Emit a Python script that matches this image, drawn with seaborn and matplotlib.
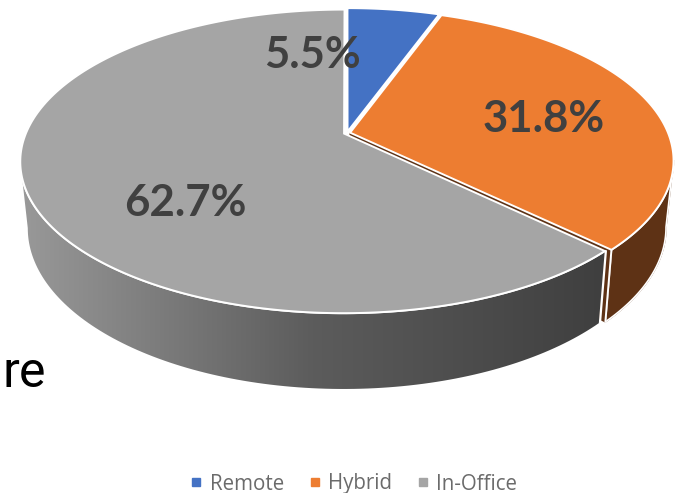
import numpy as np
import matplotlib.pyplot as plt
import seaborn as sns
from matplotlib.colors import LinearSegmentedColormap
from matplotlib.lines import Line2D
from matplotlib.patches import Polygon

# chart data
categories = ["Remote", "Hybrid", "In-Office"]
shares = [5.5, 31.8, 62.7]
colors = ["#4472c4", "#ed7d31", "#a5a5a5"]

sns.set_theme(style="white")
plt.rcParams['font.family'] = ['Open Sans', 'DejaVu Sans']
palette = sns.color_palette(colors)

# tilted disc: perspective from the flat pie to the picture
CX, CY = 347, 133
A, B, K = 318.0, 146.5, 0.183
DEPTH, X_SHRINK, Y_STRETCH = 65, 0.977, 1.06
EXPLODE = 0.01


def top_xy(theta, r=1.0, off=(0.0, 0.0)):
    u = r * np.sin(theta) + off[0]
    v = r * np.cos(theta) + off[1]
    d = 1 + K * v
    return CX + A * u / d, CY - B * v / d


def bottom_xy(theta, r=1.0, off=(0.0, 0.0)):
    x, y = top_xy(theta, r, off)
    return CX + (x - CX) * X_SHRINK, CY + (y - CY) * Y_STRETCH + DEPTH


def wall_poly(t0, t1, off):
    t = np.linspace(t0, t1, 120)
    xa, ya = top_xy(t, off=off)
    xb, yb = bottom_xy(t[::-1], off=off)
    return np.column_stack([np.r_[xa, xb], np.r_[ya, yb]])


edges = np.radians(np.r_[0, np.cumsum(shares)] * 3.6)
mids = (edges[:-1] + edges[1:]) / 2
offsets = [(EXPLODE * np.sin(m), EXPLODE * np.cos(m)) for m in mids]

fig = plt.figure(figsize=(6.77, 4.93), dpi=100)
ax = fig.add_axes([0, 0, 1, 1])

# silhouette angles, where the rim is widest on either side
side = np.arccos(-K)

# orange side wall
ax.fill(*wall_poly(side, edges[2], offsets[1]).T, color="#5e3215", zorder=1)
ax.add_patch(Polygon(wall_poly(side, edges[2], offsets[1]), closed=True, fill=False,
                     edgecolor="white", lw=1.2, zorder=1.1))

# orange cut face, seen as a sliver in the gap
xa, ya = top_xy(edges[2], off=offsets[1])
xc, yc = top_xy(edges[2], 0, off=offsets[1])
xb, yb = bottom_xy(edges[2], off=offsets[1])
ax.fill([xc, xa, xb, xc], [yc, ya, yb, yc + DEPTH], color="#5e3215", zorder=1.2)
ax.plot([xa, xb], [ya, yb], color="white", lw=1.4, zorder=1.3)

# gray side wall, gradient clipped to the wall shape
gray_wall = wall_poly(edges[2], 2 * np.pi - side, offsets[2])
gray_cmap = LinearSegmentedColormap.from_list("wall", ["#999999", "#5c5c5c", "#3f3f3f"])
img = ax.imshow(np.linspace(0, 1, 256)[None, :], cmap=gray_cmap, aspect="auto",
                extent=(20, 605, 400, 150), zorder=2)
clip = Polygon(gray_wall, closed=True, transform=ax.transData)
img.set_clip_path(clip)
ax.plot(gray_wall[:120, 0], gray_wall[:120, 1], color="white", lw=1.5, zorder=2.1)
x0, y0 = top_xy(edges[2], off=offsets[2])
x1, y1 = bottom_xy(edges[2], off=offsets[2])
ax.plot([x0 + 1, x1 + 1], [y0, y1], color="white", lw=1.6, zorder=2.1)

# flat tops of the slices
for i in range(len(shares)):
    t = np.linspace(edges[i], edges[i + 1], 200)
    x, y = top_xy(t, off=offsets[i])
    xc, yc = top_xy(0.0, 0, off=offsets[i])
    ax.fill(np.r_[xc, x], np.r_[yc, y], facecolor=palette[i], edgecolor="white",
            lw=1.4, joinstyle="miter", zorder=3)

# slice labels
label_pos = [(312, 55), (544, 119), (185, 203)]
for share, (lx, ly) in zip(shares, label_pos):
    ax.text(lx, ly, f"{share:.1f}%", ha="center", va="center", color="#404040",
            fontsize=31.5, fontweight="bold", family=["Lato", "DejaVu Sans"], zorder=5)

# stray text left at the picture edge
ax.text(2, 387, "re", ha="left", va="baseline", color="black", fontsize=36,
        family=["Roboto", "DejaVu Sans"], zorder=5)

handles = [Line2D([], [], ls="", marker="s", ms=5.5, color=c) for c in palette]
ax.legend(handles, categories, loc="center", bbox_to_anchor=(350, 484),
          bbox_transform=ax.transData, ncol=3, frameon=False, fontsize=14.8,
          labelcolor="#6b6b6b", handletextpad=0.0, columnspacing=0.85, handlelength=1.3)

ax.set_xlim(0, 677)
ax.set_ylim(493, 0)
ax.axis("off")

fig.savefig("out.png", dpi=100)
